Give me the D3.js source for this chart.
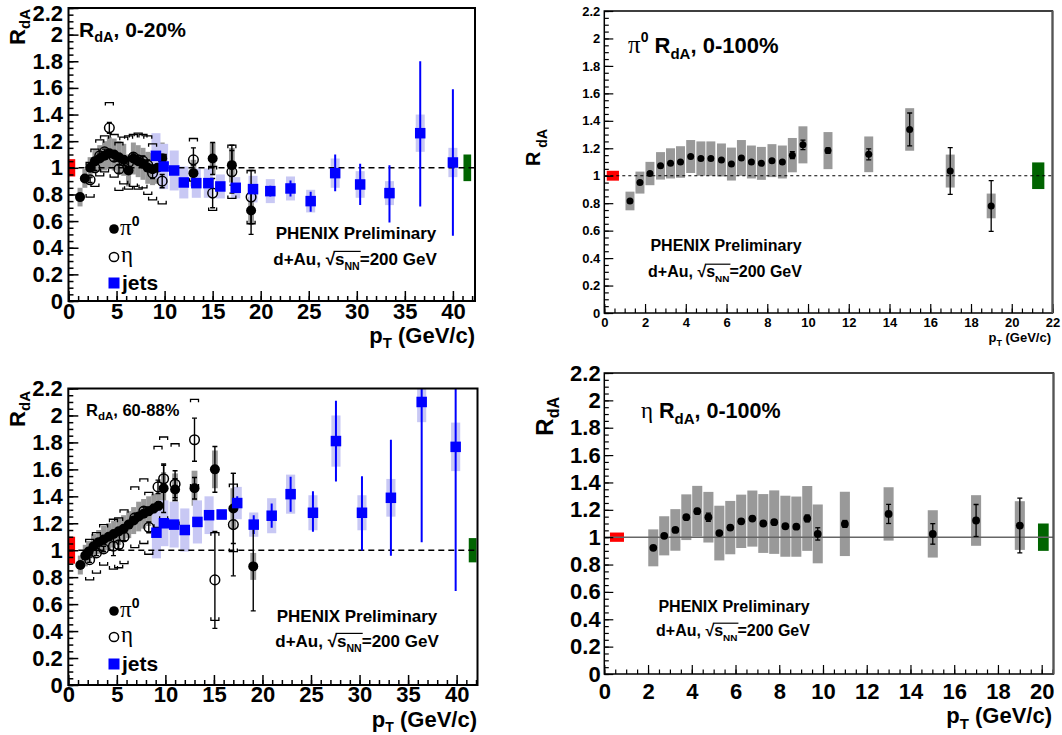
<!DOCTYPE html>
<html><head><meta charset="utf-8">
<script src="https://cdn.jsdelivr.net/npm/d3@7"></script>
<style>
body{margin:0;background:#fff}
svg{display:block}
text{font-family:"Liberation Sans",Arial,sans-serif;font-weight:bold;fill:#000}
</style>
</head><body>
<svg id="c" width="1062" height="735"></svg>
<script>
// ================= DATA =================
// Panel 1 : d+Au 0-20%
// pi0: [pT, R, stat, syst]
const p1Pi0 = [
 [1.2,0.78,0.01,0.07],[1.7,0.92,0.01,0.07],[2.25,1.0,0.01,0.08],[2.75,1.05,0.01,0.09],
 [3.25,1.07,0.01,0.10],[3.75,1.09,0.01,0.11],[4.25,1.11,0.01,0.12],[4.75,1.10,0.01,0.12],
 [5.25,1.08,0.01,0.12],[5.75,1.06,0.015,0.12],[6.25,0.98,0.015,0.12],[6.75,1.07,0.015,0.12],
 [7.25,1.05,0.02,0.12],[7.75,1.03,0.02,0.12],[8.25,1.00,0.02,0.12],[8.75,0.99,0.02,0.12],
 [9.25,1.00,0.02,0.12],[9.75,1.07,0.03,0.12],[13.0,0.96,0.06,0.10],[15.0,1.07,0.12,0.12],
 [17.0,1.02,0.15,0.13],[19.0,0.68,0.18,0.10]
];
// eta: [pT, R, stat, systUp, systDown]
const p1Eta = [
 [2.25,0.91,0.02,0.13,0.13],[2.75,1.00,0.02,0.14,0.14],[3.25,1.09,0.02,0.12,0.15],
 [3.75,1.12,0.02,0.12,0.15],[4.25,1.30,0.04,0.19,0.19],[4.75,1.08,0.03,0.17,0.15],
 [5.25,0.99,0.03,0.20,0.16],[5.75,1.05,0.03,0.18,0.17],[6.25,1.04,0.03,0.20,0.20],
 [6.75,1.08,0.03,0.17,0.22],[7.25,1.06,0.03,0.20,0.22],[7.75,1.05,0.04,0.20,0.20],
 [8.25,1.02,0.04,0.22,0.22],[8.75,0.96,0.04,0.22,0.20],[9.75,0.90,0.05,0.20,0.17],
 [13.0,1.06,0.09,0.16,0.16],[15.0,0.81,0.11,0.20,0.13],[17.0,0.97,0.16,0.20,0.20],
 [19.0,0.78,0.20,0.20,0.20]
];
// jets: [pT, R, statUp, statDown, syst]
const p1Jets = [
 [9.1,1.09,0.01,0.01,0.17],[9.9,1.01,0.01,0.01,0.17],[11.0,0.98,0.01,0.01,0.15],
 [12.0,0.89,0.01,0.01,0.12],[13.3,0.885,0.01,0.01,0.11],[14.55,0.885,0.01,0.01,0.11],
 [15.8,0.86,0.01,0.01,0.09],[17.4,0.85,0.01,0.01,0.08],[19.2,0.84,0.03,0.03,0.10],
 [21.0,0.825,0.04,0.04,0.09],[23.1,0.845,0.06,0.06,0.09],[25.2,0.75,0.07,0.08,0.085],
 [27.75,0.96,0.14,0.135,0.11],[30.35,0.875,0.155,0.155,0.10],[33.4,0.81,0.21,0.22,0.09],
 [36.6,1.26,0.54,0.55,0.14],[40.0,1.04,0.55,0.55,0.11]
];
// Panel 3 : d+Au 60-88%
const p3Pi0 = [
 [1.24,0.89,0.01,0.07],[1.75,0.96,0.01,0.08],[2.1,0.99,0.01,0.08],[2.6,1.03,0.01,0.09],
 [3.13,1.06,0.01,0.09],[3.64,1.08,0.01,0.10],[4.16,1.10,0.01,0.10],[4.67,1.12,0.01,0.10],
 [5.19,1.14,0.01,0.10],[5.7,1.16,0.015,0.10],[6.22,1.19,0.015,0.10],[6.73,1.22,0.02,0.10],
 [7.25,1.25,0.02,0.11],[7.76,1.27,0.02,0.11],[8.28,1.29,0.03,0.11],[8.8,1.31,0.03,0.11],
 [9.3,1.33,0.03,0.11],[9.82,1.46,0.18,0.12],[11.0,1.45,0.08,0.12],[13.0,1.46,0.08,0.13],
 [15.1,1.60,0.17,0.14],[17.0,1.31,0.26,0.15],[19.05,0.88,0.33,0.10]
];
const p3Eta = [
 [2.2,0.93,0.02,0.15,0.15],[2.9,0.98,0.02,0.15,0.15],[3.64,1.01,0.02,0.18,0.12],
 [4.65,1.03,0.07,0.20,0.17],[5.19,1.04,0.03,0.20,0.17],[5.74,1.10,0.03,0.20,0.20],
 [6.85,1.24,0.03,0.23,0.22],[7.78,1.29,0.03,0.24,0.24],[8.29,1.17,0.04,0.26,0.20],
 [9.24,1.47,0.05,0.30,0.30],[9.82,1.53,0.10,0.31,0.30],[11.0,1.49,0.10,0.30,0.30],
 [13.0,1.82,0.16,0.30,0.35],[15.1,0.78,0.36,0.35,0.30],[17.0,1.19,0.38,0.30,0.20]
];
const p3Jets = [
 [9.08,1.13,0.01,0.01,0.19],[9.85,1.20,0.01,0.01,0.17],[10.9,1.19,0.01,0.01,0.17],
 [12.0,1.15,0.01,0.01,0.16],[13.3,1.21,0.01,0.01,0.16],[14.5,1.26,0.01,0.01,0.14],
 [15.8,1.265,0.03,0.03,0.04],[17.4,1.35,0.05,0.05,0.12],[19.1,1.19,0.07,0.07,0.09],
 [20.95,1.256,0.09,0.09,0.13],[22.9,1.416,0.13,0.13,0.145],[25.2,1.278,0.16,0.14,0.13],
 [27.57,1.81,0.30,0.30,0.19],[30.25,1.278,0.27,0.28,0.13],[33.23,1.389,0.43,0.43,0.14],
 [36.4,2.10,0.50,1.04,0.15],[39.9,1.767,0.60,1.07,0.18]
];
// Panel 2 : pi0 RdA 0-100%  [pT, R, stat, syst]
const p2Pi0 = [
 [1.26,0.816,0.01,0.068],[1.75,0.95,0.01,0.08],[2.24,1.016,0.01,0.085],[2.76,1.072,0.01,0.10],
 [3.25,1.09,0.01,0.11],[3.74,1.10,0.01,0.115],[4.24,1.14,0.01,0.12],[4.74,1.125,0.01,0.125],
 [5.23,1.125,0.01,0.125],[5.75,1.115,0.01,0.12],[6.24,1.085,0.01,0.12],[6.73,1.13,0.01,0.13],
 [7.22,1.10,0.01,0.12],[7.71,1.09,0.01,0.12],[8.23,1.11,0.01,0.12],[8.74,1.10,0.01,0.12],
 [9.23,1.15,0.025,0.125],[9.75,1.225,0.035,0.135],[10.98,1.183,0.02,0.135],[12.98,1.156,0.04,0.13],
 [14.99,1.337,0.12,0.155],[16.98,1.034,0.17,0.12],[18.99,0.78,0.185,0.09]
];
// Panel 4 : eta RdA 0-100%  [pT, R, stat, syst]
const p4Eta = [
 [2.24,0.922,0.01,0.135],[2.74,1.01,0.01,0.143],[3.25,1.053,0.01,0.152],[3.75,1.146,0.015,0.167],
 [4.25,1.19,0.02,0.185],[4.76,1.146,0.03,0.185],[5.26,1.03,0.015,0.20],[5.76,1.07,0.015,0.195],
 [6.26,1.116,0.015,0.195],[6.77,1.136,0.015,0.205],[7.27,1.10,0.015,0.215],[7.77,1.11,0.015,0.232],
 [8.28,1.08,0.015,0.223],[8.78,1.077,0.015,0.22],[9.28,1.137,0.025,0.237],[9.76,1.024,0.045,0.215],
 [11.0,1.097,0.025,0.235],[13.0,1.17,0.07,0.195],[15.02,1.024,0.075,0.173],[17.0,1.122,0.117,0.185],
 [19.0,1.085,0.20,0.178]
];
// global normalisation uncertainties [red (d+Au), green (p+p)]
const p1Norm = [0.065,0.10];
const p3Norm = [0.10,0.09];
const p2Norm = [0.036,0.097];
const p4Norm = [0.034,0.10];
// tick labels
const yTicks = [0,0.2,0.4,0.6,0.8,1,1.2,1.4,1.6,1.8,2,2.2];
const xTicksLeft = [0,5,10,15,20,25,30,35,40];
const xTicksP2 = [0,2,4,6,8,10,12,14,16,18,20,22];
const xTicksP4 = [0,2,4,6,8,10,12,14,16,18,20];

// ================= DRAW =================
const svg = d3.select('#c');
const SANS = '"Liberation Sans",Arial,sans-serif';
const SERIF = '"Liberation Serif","DejaVu Serif",serif';

function richText(g, x, y, parts, anchor, transform){
  const t = g.append('text').attr('x',x).attr('y',y).attr('text-anchor',anchor||'start');
  if(transform) t.attr('transform',transform);
  let cur = 0;
  parts.forEach(p=>{
    const s = t.append('tspan').text(p.t).attr('font-size',p.fs);
    const off = p.dy||0;
    s.attr('dy', off-cur); cur = off;
    if(p.fam) s.attr('font-family',p.fam);
    if(p.w) s.attr('font-weight',p.w);
  });
  return t;
}

function makePanel(id, L){
  const x = d3.scaleLinear().domain([0,L.xmax]).range([L.l,L.r]);
  const y = d3.scaleLinear().domain([0,2.2]).range([L.b,L.t]);
  const g = svg.append('g');
  svg.append('clipPath').attr('id','clip'+id).append('rect')
    .attr('x',L.l).attr('y',L.t).attr('width',L.r-L.l).attr('height',L.b-L.t);
  const plot = g.append('g').attr('clip-path',`url(#clip${id})`);
  return {x,y,g,plot,L};
}

function drawAxes(P, xTicks){
  const L = P.L;
  const xMin = d3.range(0, L.xmax+1e-9, L.xMinor);
  const yMin = d3.range(0, 2.2+1e-9, L.yMinor);
  const gx2 = P.g.append('g').attr('transform',`translate(0,${L.b})`)
    .call(d3.axisBottom(P.x).tickValues(xMin).tickSize(-L.min).tickFormat(''));
  const gx = P.g.append('g').attr('transform',`translate(0,${L.b})`)
    .call(d3.axisBottom(P.x).tickValues(xTicks).tickSize(-L.maj).tickPadding(L.xPad).tickFormat(d=>String(d)));
  const gy2 = P.g.append('g').attr('transform',`translate(${L.l},0)`)
    .call(d3.axisLeft(P.y).tickValues(yMin).tickSize(-L.min).tickFormat(''));
  const gy = P.g.append('g').attr('transform',`translate(${L.l},0)`)
    .call(d3.axisLeft(P.y).tickValues(yTicks).tickSize(-L.maj).tickPadding(L.yPad).tickFormat(d=>String(+d.toFixed(1))));
  [gx,gx2,gy,gy2].forEach(a=>{
    a.select('.domain').remove();
    a.selectAll('line').attr('stroke','#000').attr('stroke-width',L.tw);
    a.selectAll('text').attr('font-size',L.font).attr('font-family',SANS).attr('font-weight','bold').attr('fill','#000');
  });
  if(L.topLabelDy) gy.selectAll('.tick').filter(d=>d===2.2).select('text').attr('dy',L.topLabelDy);
  P.g.append('rect').attr('x',L.l).attr('y',L.t).attr('width',L.r-L.l).attr('height',L.b-L.t)
    .attr('fill','none').attr('stroke','#000').attr('stroke-width',L.lw);
}

function normBoxes(P, norm, redX, greenX){
  const {x,y,plot} = P;
  plot.append('rect').attr('x',x(redX[0])).attr('width',x(redX[1])-x(redX[0]))
    .attr('y',y(1+norm[0])).attr('height',y(1-norm[0])-y(1+norm[0])).attr('fill','#ff0000');
  plot.append('rect').attr('x',x(greenX[0])).attr('width',x(greenX[1])-x(greenX[0]))
    .attr('y',y(1+norm[1])).attr('height',y(1-norm[1])-y(1+norm[1])).attr('fill','#006400');
}

function unityLine(P, style){
  const {x,y,plot,L} = P;
  const ln = plot.append('line').attr('x1',x(0)).attr('x2',x(L.xmax)).attr('y1',y(1)).attr('y2',y(1));
  if(style==='solid') ln.attr('stroke','#666').attr('stroke-width',1.5);
  else ln.attr('stroke','#000').attr('stroke-width',style.w).attr('stroke-dasharray',style.d);
}

function systBoxes(P, data, hw, color, sIdx){
  const {x,y,plot} = P;
  plot.append('g').selectAll('rect').data(data).join('rect')
    .attr('x',d=>x(d[0]-hw(d))).attr('width',d=>x(d[0]+hw(d))-x(d[0]-hw(d)))
    .attr('y',d=>y(d[1]+d[sIdx])).attr('height',d=>y(d[1]-d[sIdx])-y(d[1]+d[sIdx]))
    .attr('fill',color);
}

function statBars(P, data, color, w, cap, upIdx, dnIdx){
  const {x,y,plot} = P;
  const g = plot.append('g').attr('stroke',color).attr('stroke-width',w).attr('fill','none');
  data.forEach(d=>{
    const xc = x(d[0]), yt = y(d[1]+d[upIdx]), yb = y(d[1]-d[dnIdx]);
    g.append('line').attr('x1',xc).attr('x2',xc).attr('y1',yt).attr('y2',yb);
    if(cap>0){
      g.append('line').attr('x1',xc-cap).attr('x2',xc+cap).attr('y1',yt).attr('y2',yt);
      g.append('line').attr('x1',xc-cap).attr('x2',xc+cap).attr('y1',yb).attr('y2',yb);
    }
  });
}

function brackets(P, data){
  const {x,y,plot} = P;
  const g = plot.append('g').attr('stroke','#000').attr('stroke-width',1.3).attr('fill','none');
  const w=4, h=3;
  data.forEach(d=>{
    const xc=x(d[0]), yt=y(d[1]+d[3]), yb=y(d[1]-d[4]);
    g.append('path').attr('d',`M${xc-w},${yt+h}V${yt}H${xc+w}V${yt+h}`);
    g.append('path').attr('d',`M${xc-w},${yb-h}V${yb}H${xc+w}V${yb-h}`);
  });
}

function circles(P, data, r, filled){
  const {x,y,plot} = P;
  plot.append('g').selectAll('circle').data(data).join('circle')
    .attr('cx',d=>x(d[0])).attr('cy',d=>y(d[1])).attr('r',r)
    .attr('fill',filled?'#000':'none').attr('stroke','#000').attr('stroke-width',filled?0:1.5);
}
function squares(P, data, s){
  const {x,y,plot} = P;
  plot.append('g').selectAll('rect').data(data).join('rect')
    .attr('x',d=>x(d[0])-s/2).attr('y',d=>y(d[1])-s/2).attr('width',s).attr('height',s).attr('fill','#0000ff');
}

function sqrtsLine(g, cx, base, fs){
  const grp = g.append('g');
  let xp = 0;
  const add=(txt,size,dy,fam,wt)=>{
    const t = grp.append('text').attr('x',xp).attr('y',base+dy).attr('font-size',size).text(txt);
    if(fam) t.attr('font-family',fam);
    if(wt) t.attr('font-weight',wt);
    const w = t.node().getComputedTextLength(); const x0 = xp; xp += w; return {x0,w};
  };
  add('d+Au,\u00A0',fs,0);
  const r = add('\u221A',fs*1.0,0,'"DejaVu Sans",sans-serif','normal');
  add('s',fs,0);
  add('NN',fs*0.62,fs*0.32);
  const endOver = xp;
  add('=200 GeV',fs,0);
  grp.append('line').attr('x1',r.x0+r.w*0.85).attr('x2',endOver+1)
    .attr('y1',base-fs*0.8).attr('y2',base-fs*0.8).attr('stroke','#000').attr('stroke-width',1.2);
  grp.attr('transform',`translate(${cx-xp/2},0)`);
}

function legend(g, x0, ys){
  g.append('circle').attr('cx',x0).attr('cy',ys[0]).attr('r',4.8).attr('fill','#000');
  richText(g, x0+6, ys[0]+6, [{t:'\u03C0',fs:23,fam:SERIF,w:'normal'},{t:'0',fs:14,dy:-9}]);
  g.append('circle').attr('cx',x0).attr('cy',ys[1]).attr('r',4.6).attr('fill','none').attr('stroke','#000').attr('stroke-width',1.5);
  richText(g, x0+7, ys[1]+5, [{t:'\u03B7',fs:23,fam:SERIF,w:'normal'}]);
  g.append('rect').attr('x',x0-5.5).attr('y',ys[2]-5.5).attr('width',11).attr('height',11).attr('fill','#0000ff');
  richText(g, x0+8, ys[2]+7, [{t:'jets',fs:21}]);
}

// ---------- layouts ----------
const L1 = {l:68.5,r:475,t:8,b:301,xmax:42.3,xMinor:1,yMinor:0.05,maj:10,min:5,tw:1.5,lw:2,font:22,xPad:2,yPad:5.5,topLabelDy:'0.55em'};
const L3 = {l:68.3,r:477.5,t:388.5,b:685,xmax:42.15,xMinor:1,yMinor:0.05,maj:10,min:5,tw:1.5,lw:2,font:22,xPad:1,yPad:5.5};
const L2 = {l:604.3,r:1052.5,t:11,b:313,xmax:22,xMinor:0.5,yMinor:0.05,maj:9,min:4.5,tw:1.2,lw:1.5,font:13,xPad:5,yPad:4};
const L4 = {l:604.3,r:1053.5,t:373,b:674,xmax:20.54,xMinor:0.5,yMinor:0.05,maj:9,min:4.5,tw:1.2,lw:1.5,font:22,xPad:9.5,yPad:3.6};

const GREY='#999999', LBLUE='#c8c8f4';

function leftPanel(id, L, pi0, eta, jets, norm, greenX){
  const P = makePanel(id, L);
  systBoxes(P, pi0, d=>d[0]>10?0.3:0.26, GREY, 3);
  systBoxes(P, jets, d=>0.47, LBLUE, 4);
  normBoxes(P, norm, [0,0.7], greenX);
  unityLine(P, {w:1.5,d:'6,4'});
  brackets(P, eta);
  statBars(P, jets, '#0000ff', 2, 0, 2, 3);
  statBars(P, pi0, '#000', 1.4, 2.5, 2, 2);
  statBars(P, eta, '#000', 1.4, 2.5, 2, 2);
  circles(P, pi0, 5, true);
  circles(P, eta, 4.8, false);
  squares(P, jets, 10.5);
  drawAxes(P, xTicksLeft);
  return P;
}

// ---------- Panel 1 ----------
const P1 = leftPanel('p1', L1, p1Pi0, p1Eta, p1Jets, p1Norm, [41.1,41.9]);
richText(P1.g, 79, 37, [{t:'R',fs:21},{t:'dA',fs:14.5,dy:5},{t:',\u00A00-20%',fs:21}]);
richText(P1.g, 25, 9, [{t:'R',fs:22},{t:'dA',fs:15,dy:5}], 'end', 'rotate(-90,25,9)');
richText(P1.g, 475, 343, [{t:'p',fs:22},{t:'T',fs:15,dy:5},{t:'\u00A0(GeV/c)',fs:22}], 'end');
P1.g.append('text').attr('x',356).attr('y',239).attr('text-anchor','middle').attr('font-size',17).text('PHENIX Preliminary');
sqrtsLine(P1.g, 355, 265, 17);
legend(P1.g, 114, [229,257,283]);

// ---------- Panel 3 ----------
const P3 = leftPanel('p3', L3, p3Pi0, p3Eta, p3Jets, p3Norm, [41.25,42.05]);
richText(P3.g, 86, 416, [{t:'R',fs:16.5},{t:'dA',fs:11.5,dy:4},{t:',\u00A060-88%',fs:16.5}]);
richText(P3.g, 25, 391, [{t:'R',fs:22},{t:'dA',fs:15,dy:5}], 'end', 'rotate(-90,25,391)');
richText(P3.g, 477, 727, [{t:'p',fs:22},{t:'T',fs:14,dy:5},{t:'\u00A0(GeV/c)',fs:22}], 'end');
P3.g.append('text').attr('x',357).attr('y',621.5).attr('text-anchor','middle').attr('font-size',17).text('PHENIX Preliminary');
sqrtsLine(P3.g, 357, 647, 17);
legend(P3.g, 114, [611,637,664]);

// ---------- Panel 2 ----------
const P2 = makePanel('p2', L2);
systBoxes(P2, p2Pi0, d=>0.22, GREY, 3);
normBoxes(P2, p2Norm, [0.12,0.72], [21.0,21.6]);
unityLine(P2, {w:1.2,d:'3,3'});
statBars(P2, p2Pi0, '#000', 1.3, 2.5, 2, 2);
circles(P2, p2Pi0, 3.5, true);
drawAxes(P2, xTicksP2);
P2.g.append('line').attr('x1',L2.r).attr('x2',L2.r).attr('y1',L2.t).attr('y2',L2.b).attr('stroke','#555').attr('stroke-width',2);
richText(P2.g, 628, 53, [{t:'\u03C0',fs:25,fam:SERIF,w:'normal'},{t:'0',fs:14,dy:-11},{t:'\u00A0R',fs:22},{t:'dA',fs:15,dy:6},{t:',\u00A00-100%',fs:22}]);
richText(P2.g, 540, 166, [{t:'R',fs:20},{t:'\u00A0dA',fs:14,dy:7}], 'start', 'rotate(-90,540,166)');
richText(P2.g, 1051, 342, [{t:'p',fs:13},{t:'T',fs:9,dy:4},{t:'\u00A0(GeV/c)',fs:13}], 'end');
P2.g.append('text').attr('x',726).attr('y',251).attr('text-anchor','middle').attr('font-size',16).text('PHENIX Preliminary');
sqrtsLine(P2.g, 725, 277, 16);

// ---------- Panel 4 ----------
const P4 = makePanel('p4', L4);
systBoxes(P4, p4Eta, d=>0.23, GREY, 3);
normBoxes(P4, p4Norm, [0.26,0.9], [19.83,20.32]);
unityLine(P4, 'solid');
statBars(P4, p4Eta, '#000', 1.3, 2.5, 2, 2);
circles(P4, p4Eta, 3.9, true);
drawAxes(P4, xTicksP4);
P4.g.append('line').attr('x1',L4.r).attr('x2',L4.r).attr('y1',L4.t).attr('y2',L4.b).attr('stroke','#555').attr('stroke-width',2);
richText(P4.g, 641, 418, [{t:'\u03B7',fs:23,fam:SERIF,w:'normal'},{t:'\u00A0R',fs:21.5},{t:'dA',fs:15,dy:6},{t:',\u00A00-100%',fs:21.5}]);
richText(P4.g, 553, 397, [{t:'R',fs:24},{t:'dA',fs:16,dy:6}], 'end', 'rotate(-90,553,397)');
richText(P4.g, 1052, 723, [{t:'p',fs:22},{t:'T',fs:15,dy:6},{t:'\u00A0(GeV/c)',fs:22}], 'end');
P4.g.append('text').attr('x',734).attr('y',611.5).attr('text-anchor','middle').attr('font-size',16).text('PHENIX Preliminary');
sqrtsLine(P4.g, 733, 636, 16);
</script>
</body></html>
